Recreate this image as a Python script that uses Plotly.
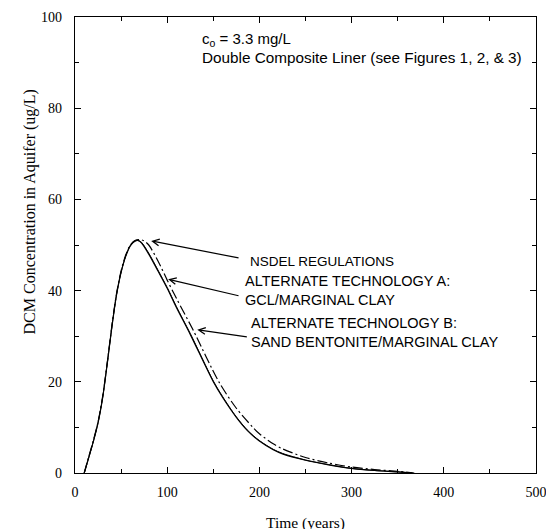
import plotly.graph_objects as go

# Time (years) and DCM concentration (ug/L)
t_nsdel = [10, 15, 20, 25, 30, 35, 40, 45, 50, 55, 60, 65, 68, 72, 80, 90, 100, 110, 125,
           150, 160, 175, 187, 200, 215, 225, 250, 275, 300, 325, 350, 366]
c_nsdel = [0, 3.5, 7, 11, 16.5, 24, 32, 39, 44, 47.5, 49.8, 50.8, 51, 50.5, 48.0, 44.3, 40.5, 36.3, 30.4,
           20, 16.6, 12.2, 9.3, 7.0, 5.1, 4.2, 2.8, 1.8, 1.0, 0.55, 0.25, 0]

t_alt_a = [10, 15, 20, 25, 30, 35, 40, 45, 50, 55, 60, 65, 68, 72, 80, 90, 100, 110, 125,
           150, 160, 175, 187, 200, 215, 225, 250, 275, 300, 325, 350, 366]
c_alt_a = [0, 3.4, 7, 11.1, 16.6, 24.2, 32.1, 39.1, 44.1, 47.6, 49.9, 50.9, 51, 50.6, 48.2, 44.5, 40.7, 36.5, 30.6,
           20.2, 16.8, 12.3, 9.4, 7.1, 5.2, 4.3, 2.85, 1.85, 1.0, 0.55, 0.25, 0]

t_alt_b = [10, 15, 20, 25, 30, 35, 40, 45, 50, 55, 60, 65, 70, 75, 80, 90, 100, 110, 128,
           156, 175, 193, 200, 215, 225, 250, 275, 300, 325, 350, 368]
c_alt_b = [0, 3.6, 7.2, 11.2, 16.8, 24.2, 32.3, 39.3, 44.3, 47.8, 50.0, 51.0, 51.2, 50.9, 50.0, 46.5, 42.3, 38.3, 31.4,
           20, 14.2, 10, 8.6, 6.4, 5.3, 3.4, 2.2, 1.3, 0.75, 0.35, 0]

x_ticks = [0, 100, 200, 300, 400, 500]
y_ticks = [0, 20, 40, 60, 80, 100]

serif = "Liberation Serif, Times New Roman, serif"
sans = "Liberation Sans, Arial, sans-serif"

fig = go.Figure()
fig.add_trace(go.Scatter(x=t_nsdel, y=c_nsdel, mode="lines", name="NSDEL REGULATIONS",
                         line=dict(color="black", width=1.2, shape="spline", smoothing=0.8)))
fig.add_trace(go.Scatter(x=t_alt_a, y=c_alt_a, mode="lines", name="ALTERNATE TECHNOLOGY A",
                         line=dict(color="black", width=1.0, shape="spline", smoothing=0.8)))
fig.add_trace(go.Scatter(x=t_alt_b, y=c_alt_b, mode="lines", name="ALTERNATE TECHNOLOGY B",
                         line=dict(color="black", width=1.2, dash="10px,3px,2px,3px",
                                   shape="spline", smoothing=0.8)))

axis_common = dict(showgrid=False, zeroline=False, showline=True, linecolor="black", linewidth=1.2,
                   mirror="ticks", ticks="inside", ticklen=6, tickcolor="black", automargin=False,
                   tickfont=dict(family=serif, size=14, color="black"))

fig.update_xaxes(range=[0, 500], tickvals=x_ticks, **axis_common, ticklabelstandoff=6,
                 minor=dict(ticks="inside", ticklen=4, dtick=50, tickcolor="black"),
                 title=dict(text="Time (years)", font=dict(family=serif, size=15.5, color="black"), standoff=18))
fig.update_yaxes(range=[0, 100], tickvals=y_ticks, **axis_common, ticklabelstandoff=9,
                 minor=dict(ticks="inside", ticklen=4, dtick=10, tickcolor="black"))

arrow_style = dict(axref="x", ayref="y", xref="x", yref="y", text="", showarrow=True,
                   arrowhead=5, arrowsize=1.1, arrowwidth=1.2, arrowcolor="black")
label_font = dict(family=sans, size=14.5, color="black")

annotations = [
    dict(x=0.271, y=0.9496, xref="paper", yref="paper", xanchor="left", yanchor="middle", showarrow=False,
         text="c<sub>o</sub> = 3.3 mg/L", font=dict(family=sans, size=15, color="black")),
    dict(x=0.271, y=0.912, xref="paper", yref="paper", xanchor="left", yanchor="middle", showarrow=False,
         text="Double Composite Liner (see Figures 1, 2, &amp; 3)", font=dict(family=sans, size=15.3, color="black")),
    dict(x=-0.097, y=0.572, xref="paper", yref="paper", xanchor="center", yanchor="middle",
         showarrow=False, textangle=-90,
         text="DCM Concentration in Aquifer (ug/L)", font=dict(family=serif, size=16, color="black")),
    dict(x=82.6, y=50.9, ax=179, ay=47.1, **arrow_style),
    dict(x=101, y=42.5, ax=179, ay=38.8, **arrow_style),
    dict(x=132.6, y=31.4, ax=188, ay=29.8, **arrow_style),
    dict(x=188, y=46.3, xref="x", yref="y", xanchor="left", yanchor="middle", showarrow=False,
         text="NSDEL REGULATIONS", font=dict(family=sans, size=13.5, color="black")),
    dict(x=182.6, y=40.05, xref="x", yref="y", xanchor="left", yanchor="middle", showarrow=False, align="left",
         text="ALTERNATE TECHNOLOGY A:<br>GCL/MARGINAL CLAY", font=label_font),
    dict(x=189, y=30.85, xref="x", yref="y", xanchor="left", yanchor="middle", showarrow=False, align="left",
         text="ALTERNATE TECHNOLOGY B:<br>SAND BENTONITE/MARGINAL CLAY", font=label_font),
]

fig.update_layout(width=554, height=529, margin=dict(l=67, r=26, t=9, b=64, autoexpand=False),
                  paper_bgcolor="white", plot_bgcolor="white", showlegend=False,
                  annotations=annotations)

fig.write_html("out.html")
